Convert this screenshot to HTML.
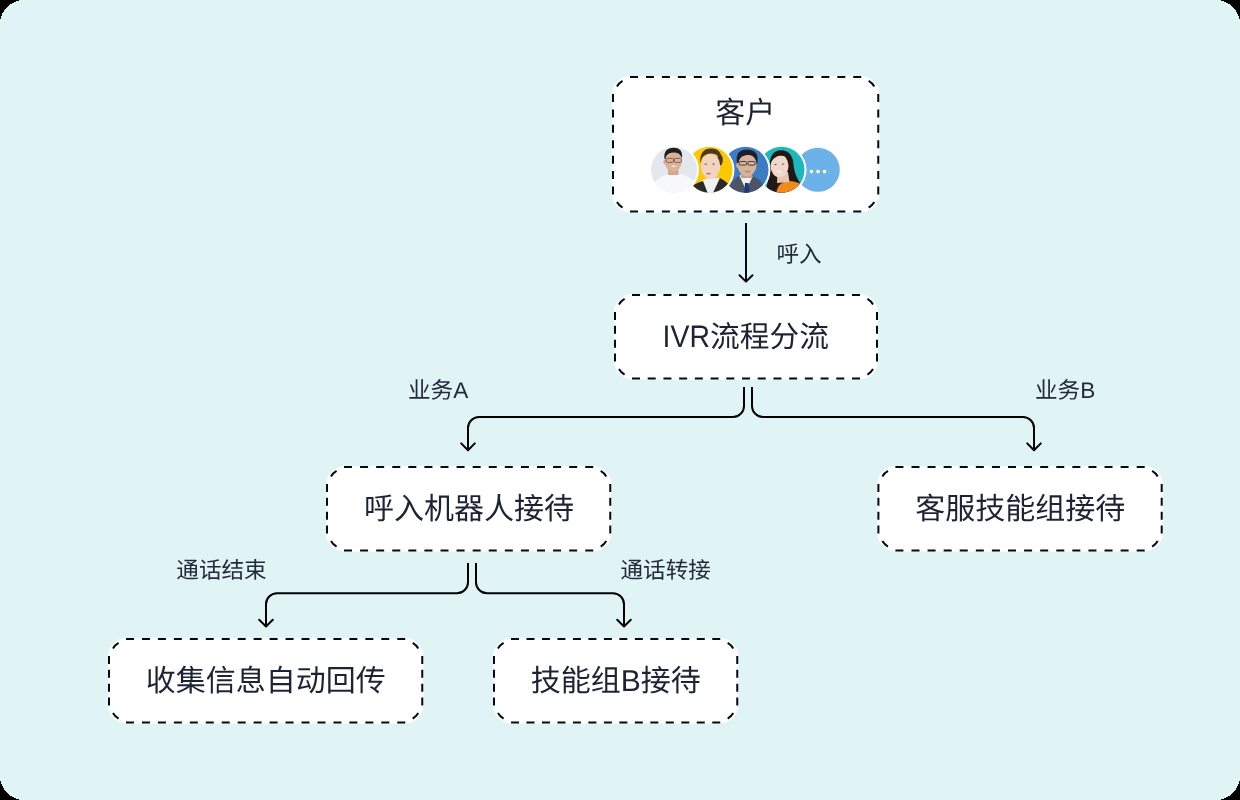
<!DOCTYPE html>
<html lang="zh-CN">
<head>
<meta charset="utf-8">
<style>
html,body{margin:0;padding:0;background:#000;}
body{width:1240px;height:800px;overflow:hidden;position:relative;font-family:"Liberation Sans",sans-serif;}
svg{position:absolute;left:0;top:0;will-change:transform;}
</style>
</head>
<body>
<svg width="1240" height="800" viewBox="0 0 1240 800">
  <rect x="0" y="0" width="1240" height="800" rx="24" fill="#e0f5f2" shape-rendering="crispEdges"/>
  <rect x="2" y="2" width="1236" height="796" rx="22" fill="#e0f4f6" shape-rendering="crispEdges"/>
  <g>
    <rect x="612" y="76" width="267.25" height="136.5" rx="18.5" fill="#fff"/>
    <rect x="614" y="294" width="264" height="85.5" rx="18.5" fill="#fff"/>
    <rect x="326" y="466" width="285.25" height="85.5" rx="18.5" fill="#fff"/>
    <rect x="877.4" y="466" width="285.3" height="85.5" rx="18.5" fill="#fff"/>
    <rect x="108" y="638" width="315.25" height="85.5" rx="18.5" fill="#fff"/>
    <rect x="493" y="638" width="245.25" height="85.5" rx="18.5" fill="#fff"/>
  </g>
  <g fill="none" stroke="#040817" stroke-width="2">
    <path d="M630.00 77.00L638.00 77.00M645.95 77.00L653.95 77.00M661.89 77.00L669.89 77.00M677.84 77.00L685.84 77.00M693.79 77.00L701.79 77.00M709.73 77.00L717.73 77.00M725.68 77.00L733.68 77.00M741.62 77.00L749.62 77.00M757.57 77.00L765.57 77.00M773.52 77.00L781.52 77.00M789.46 77.00L797.46 77.00M805.41 77.00L813.41 77.00M821.36 77.00L829.36 77.00M837.30 77.00L845.30 77.00M853.25 77.00L861.25 77.00M878.25 94.00L878.25 102.00M878.25 109.42L878.25 117.42M878.25 124.83L878.25 132.83M878.25 140.25L878.25 148.25M878.25 155.67L878.25 163.67M878.25 171.08L878.25 179.08M878.25 186.50L878.25 194.50M861.25 211.50L853.25 211.50M845.30 211.50L837.30 211.50M829.36 211.50L821.36 211.50M813.41 211.50L805.41 211.50M797.46 211.50L789.46 211.50M781.52 211.50L773.52 211.50M765.57 211.50L757.57 211.50M749.62 211.50L741.62 211.50M733.68 211.50L725.68 211.50M717.73 211.50L709.73 211.50M701.79 211.50L693.79 211.50M685.84 211.50L677.84 211.50M669.89 211.50L661.89 211.50M653.95 211.50L645.95 211.50M638.00 211.50L630.00 211.50M613.00 194.50L613.00 186.50M613.00 179.08L613.00 171.08M613.00 163.67L613.00 155.67M613.00 148.25L613.00 140.25M613.00 132.83L613.00 124.83M613.00 117.42L613.00 109.42M613.00 102.00L613.00 94.00M616.97 86.56A15 15 0 0 1 622.56 80.97M868.69 80.97A15 15 0 0 1 874.28 86.56M874.28 201.94A15 15 0 0 1 868.69 207.53M622.56 207.53A15 15 0 0 1 616.97 201.94"/>
    <path d="M632.00 295.00L640.00 295.00M647.71 295.00L655.71 295.00M663.43 295.00L671.43 295.00M679.14 295.00L687.14 295.00M694.86 295.00L702.86 295.00M710.57 295.00L718.57 295.00M726.29 295.00L734.29 295.00M742.00 295.00L750.00 295.00M757.71 295.00L765.71 295.00M773.43 295.00L781.43 295.00M789.14 295.00L797.14 295.00M804.86 295.00L812.86 295.00M820.57 295.00L828.57 295.00M836.29 295.00L844.29 295.00M852.00 295.00L860.00 295.00M877.00 312.00L877.00 320.00M877.00 325.83L877.00 333.83M877.00 339.67L877.00 347.67M877.00 353.50L877.00 361.50M860.00 378.50L852.00 378.50M844.29 378.50L836.29 378.50M828.57 378.50L820.57 378.50M812.86 378.50L804.86 378.50M797.14 378.50L789.14 378.50M781.43 378.50L773.43 378.50M765.71 378.50L757.71 378.50M750.00 378.50L742.00 378.50M734.29 378.50L726.29 378.50M718.57 378.50L710.57 378.50M702.86 378.50L694.86 378.50M687.14 378.50L679.14 378.50M671.43 378.50L663.43 378.50M655.71 378.50L647.71 378.50M640.00 378.50L632.00 378.50M615.00 361.50L615.00 353.50M615.00 347.67L615.00 339.67M615.00 333.83L615.00 325.83M615.00 320.00L615.00 312.00M618.97 304.56A15 15 0 0 1 624.56 298.97M867.44 298.97A15 15 0 0 1 873.03 304.56M873.03 368.94A15 15 0 0 1 867.44 374.53M624.56 374.53A15 15 0 0 1 618.97 368.94"/>
    <path d="M344.00 467.00L352.00 467.00M360.08 467.00L368.08 467.00M376.17 467.00L384.17 467.00M392.25 467.00L400.25 467.00M408.33 467.00L416.33 467.00M424.42 467.00L432.42 467.00M440.50 467.00L448.50 467.00M456.58 467.00L464.58 467.00M472.67 467.00L480.67 467.00M488.75 467.00L496.75 467.00M504.83 467.00L512.83 467.00M520.92 467.00L528.92 467.00M537.00 467.00L545.00 467.00M553.08 467.00L561.08 467.00M569.17 467.00L577.17 467.00M585.25 467.00L593.25 467.00M610.25 484.00L610.25 492.00M610.25 497.83L610.25 505.83M610.25 511.67L610.25 519.67M610.25 525.50L610.25 533.50M593.25 550.50L585.25 550.50M577.17 550.50L569.17 550.50M561.08 550.50L553.08 550.50M545.00 550.50L537.00 550.50M528.92 550.50L520.92 550.50M512.83 550.50L504.83 550.50M496.75 550.50L488.75 550.50M480.67 550.50L472.67 550.50M464.58 550.50L456.58 550.50M448.50 550.50L440.50 550.50M432.42 550.50L424.42 550.50M416.33 550.50L408.33 550.50M400.25 550.50L392.25 550.50M384.17 550.50L376.17 550.50M368.08 550.50L360.08 550.50M352.00 550.50L344.00 550.50M327.00 533.50L327.00 525.50M327.00 519.67L327.00 511.67M327.00 505.83L327.00 497.83M327.00 492.00L327.00 484.00M330.97 476.56A15 15 0 0 1 336.56 470.97M600.69 470.97A15 15 0 0 1 606.28 476.56M606.28 540.94A15 15 0 0 1 600.69 546.53M336.56 546.53A15 15 0 0 1 330.97 540.94"/>
    <path d="M895.40 467.00L903.40 467.00M911.49 467.00L919.49 467.00M927.57 467.00L935.57 467.00M943.66 467.00L951.66 467.00M959.75 467.00L967.75 467.00M975.83 467.00L983.83 467.00M991.92 467.00L999.92 467.00M1008.01 467.00L1016.01 467.00M1024.09 467.00L1032.09 467.00M1040.18 467.00L1048.18 467.00M1056.27 467.00L1064.27 467.00M1072.35 467.00L1080.35 467.00M1088.44 467.00L1096.44 467.00M1104.53 467.00L1112.53 467.00M1120.61 467.00L1128.61 467.00M1136.70 467.00L1144.70 467.00M1161.70 484.00L1161.70 492.00M1161.70 497.83L1161.70 505.83M1161.70 511.67L1161.70 519.67M1161.70 525.50L1161.70 533.50M1144.70 550.50L1136.70 550.50M1128.61 550.50L1120.61 550.50M1112.53 550.50L1104.53 550.50M1096.44 550.50L1088.44 550.50M1080.35 550.50L1072.35 550.50M1064.27 550.50L1056.27 550.50M1048.18 550.50L1040.18 550.50M1032.09 550.50L1024.09 550.50M1016.01 550.50L1008.01 550.50M999.92 550.50L991.92 550.50M983.83 550.50L975.83 550.50M967.75 550.50L959.75 550.50M951.66 550.50L943.66 550.50M935.57 550.50L927.57 550.50M919.49 550.50L911.49 550.50M903.40 550.50L895.40 550.50M878.40 533.50L878.40 525.50M878.40 519.67L878.40 511.67M878.40 505.83L878.40 497.83M878.40 492.00L878.40 484.00M882.37 476.56A15 15 0 0 1 887.96 470.97M1152.14 470.97A15 15 0 0 1 1157.73 476.56M1157.73 540.94A15 15 0 0 1 1152.14 546.53M887.96 546.53A15 15 0 0 1 882.37 540.94"/>
    <path d="M126.00 639.00L134.00 639.00M141.96 639.00L149.96 639.00M157.91 639.00L165.91 639.00M173.87 639.00L181.87 639.00M189.82 639.00L197.82 639.00M205.78 639.00L213.78 639.00M221.74 639.00L229.74 639.00M237.69 639.00L245.69 639.00M253.65 639.00L261.65 639.00M269.60 639.00L277.60 639.00M285.56 639.00L293.56 639.00M301.51 639.00L309.51 639.00M317.47 639.00L325.47 639.00M333.43 639.00L341.43 639.00M349.38 639.00L357.38 639.00M365.34 639.00L373.34 639.00M381.29 639.00L389.29 639.00M397.25 639.00L405.25 639.00M422.25 656.00L422.25 664.00M422.25 669.83L422.25 677.83M422.25 683.67L422.25 691.67M422.25 697.50L422.25 705.50M405.25 722.50L397.25 722.50M389.29 722.50L381.29 722.50M373.34 722.50L365.34 722.50M357.38 722.50L349.38 722.50M341.43 722.50L333.43 722.50M325.47 722.50L317.47 722.50M309.51 722.50L301.51 722.50M293.56 722.50L285.56 722.50M277.60 722.50L269.60 722.50M261.65 722.50L253.65 722.50M245.69 722.50L237.69 722.50M229.74 722.50L221.74 722.50M213.78 722.50L205.78 722.50M197.82 722.50L189.82 722.50M181.87 722.50L173.87 722.50M165.91 722.50L157.91 722.50M149.96 722.50L141.96 722.50M134.00 722.50L126.00 722.50M109.00 705.50L109.00 697.50M109.00 691.67L109.00 683.67M109.00 677.83L109.00 669.83M109.00 664.00L109.00 656.00M112.97 648.56A15 15 0 0 1 118.56 642.97M412.69 642.97A15 15 0 0 1 418.28 648.56M418.28 712.94A15 15 0 0 1 412.69 718.53M118.56 718.53A15 15 0 0 1 112.97 712.94"/>
    <path d="M511.00 639.00L519.00 639.00M526.48 639.00L534.48 639.00M541.96 639.00L549.96 639.00M557.44 639.00L565.44 639.00M572.92 639.00L580.92 639.00M588.40 639.00L596.40 639.00M603.88 639.00L611.88 639.00M619.37 639.00L627.37 639.00M634.85 639.00L642.85 639.00M650.33 639.00L658.33 639.00M665.81 639.00L673.81 639.00M681.29 639.00L689.29 639.00M696.77 639.00L704.77 639.00M712.25 639.00L720.25 639.00M737.25 656.00L737.25 664.00M737.25 669.83L737.25 677.83M737.25 683.67L737.25 691.67M737.25 697.50L737.25 705.50M720.25 722.50L712.25 722.50M704.77 722.50L696.77 722.50M689.29 722.50L681.29 722.50M673.81 722.50L665.81 722.50M658.33 722.50L650.33 722.50M642.85 722.50L634.85 722.50M627.37 722.50L619.37 722.50M611.88 722.50L603.88 722.50M596.40 722.50L588.40 722.50M580.92 722.50L572.92 722.50M565.44 722.50L557.44 722.50M549.96 722.50L541.96 722.50M534.48 722.50L526.48 722.50M519.00 722.50L511.00 722.50M494.00 705.50L494.00 697.50M494.00 691.67L494.00 683.67M494.00 677.83L494.00 669.83M494.00 664.00L494.00 656.00M497.97 648.56A15 15 0 0 1 503.56 642.97M727.69 642.97A15 15 0 0 1 733.28 648.56M733.28 712.94A15 15 0 0 1 727.69 718.53M503.56 718.53A15 15 0 0 1 497.97 712.94"/>
  </g>

  <g fill="none" stroke="#040817" stroke-width="2" stroke-linecap="butt" stroke-linejoin="round">
    <path d="M746 223 V281.5"/>
    <path d="M739.5 275.2 L746 281.6 L752.5 275.2" stroke-linecap="round"/>
  </g>
  <g fill="none" stroke="#000000" stroke-width="2" stroke-linecap="butt" stroke-linejoin="round">
    <path d="M744 387 V406 A11 11 0 0 1 733 417 H479 A11 11 0 0 0 468 428 V450"/>
    <path d="M461.2 443.4 L468 450.2 L474.8 443.4" stroke-linecap="round"/>
    <path d="M752 387 V406 A11 11 0 0 0 763 417 H1023 A11 11 0 0 1 1034 428 V450"/>
    <path d="M1027.2 443.4 L1034 450.2 L1040.8 443.4" stroke-linecap="round"/>
    <path d="M468 563 V582.3 A11 11 0 0 1 457 593.3 H277 A11 11 0 0 0 266 604.3 V626.5"/>
    <path d="M259.2 619.7 L266 626.5 L272.8 619.7" stroke-linecap="round"/>
    <path d="M476 563 V582.3 A11 11 0 0 0 487 593.3 H613 A11 11 0 0 1 624 604.3 V626.5"/>
    <path d="M617.2 619.7 L624 626.5 L630.8 619.7" stroke-linecap="round"/>
  </g>
  <g fill="#1c2334" font-family="Liberation Sans, sans-serif" font-size="30" text-anchor="middle" text-rendering="geometricPrecision">
    <text x="745.3" y="123.4">客户</text>
    <text transform="translate(662.6 346.8) scale(0.948 1.04)" text-anchor="start">IVR</text>
    <text x="710.1" y="346.6" text-anchor="start" font-size="29.7">流程分流</text>
    <text x="468.9" y="519.4">呼入机器人接待</text>
    <text x="1020.3" y="519.4">客服技能组接待</text>
    <text x="265.8" y="691.4">收集信息自动回传</text>
    <text x="615.7" y="691.4">技能组B接待</text>
  </g>
  <g fill="#232a3a" font-family="Liberation Sans, sans-serif" font-size="22.6" text-rendering="geometricPrecision">
    <text x="776.5" y="261.8">呼入</text>
    <text x="408" y="398.3">业务A</text>
    <text x="1035" y="398.3">业务B</text>
    <text x="176.3" y="578.2">通话结束</text>
    <text x="620.5" y="578.2">通话转接</text>
  </g>
  <defs>
    <clipPath id="c1"><circle cx="674" cy="169.85" r="23"/></clipPath>
    <clipPath id="c2"><circle cx="709.5" cy="169.85" r="23"/></clipPath>
    <clipPath id="c3"><circle cx="745.5" cy="169.85" r="23"/></clipPath>
    <clipPath id="c4"><circle cx="781.5" cy="169.85" r="23"/></clipPath>
  </defs>
  <circle cx="817.8" cy="169.85" r="22" fill="#6cb2e8"/>
  <g fill="#ffffff"><circle cx="811.5" cy="171.6" r="1.8"/><circle cx="818" cy="171.6" r="1.8"/><circle cx="824.5" cy="171.6" r="1.8"/></g>
  <circle cx="781.5" cy="169.85" r="25" fill="#ffffff"/>
  <g clip-path="url(#c4)">
    <rect x="758" y="146" width="47" height="48" fill="#1cb8bb"/>
    <path d="M766 195 C766 186 769 178 770 170 C769 158 772 150.5 781 150.3 C789 150.5 793 156 793.5 164 C794 172 797 178 800 183 L803 195 Z" fill="#241815"/>
    <path d="M776 195 C777 186 781 182 788 181 C794 181 799 183 803 185 L806 195 Z" fill="#ef8a1b"/>
    <path d="M777.5 172 L788 172 L789.5 182 L777 183 Z" fill="#e9c4b1"/>
    <ellipse cx="779.5" cy="165.8" rx="9" ry="11.5" fill="#f1d7ca"/>
    <path d="M770.5 164 C770 155 775 151.5 781 151.5 C787 151.5 790.5 155 790.5 161 C788 157 784 155 778 156 C774 157.5 771.5 160.5 770.5 164 Z" fill="#241815"/>
    <ellipse cx="775.5" cy="164.5" rx="1.3" ry="0.6" fill="#5a463e"/>
    <ellipse cx="783" cy="164" rx="1.3" ry="0.6" fill="#5a463e"/>
    <ellipse cx="779" cy="171.5" rx="2.6" ry="0.9" fill="#f7efe9"/>
  </g>
  <circle cx="745.5" cy="169.85" r="25" fill="#ffffff"/>
  <g clip-path="url(#c3)">
    <rect x="722" y="146" width="47" height="48" fill="#3b7cc3"/>
    <path d="M728 195 C729 184 734 178.5 740 175.5 L746 177 L753 176.5 C759 178 763 183 765 190 L765 195 Z" fill="#4d5465"/>
    <path d="M739.5 176 L746 190 L752.5 177 L752 175 L740 175 Z" fill="#eef1f4"/>
    <path d="M745 183 L748.5 183 L750 195 L744 195 Z" fill="#1d3b7a"/>
    <path d="M741 169 L752 169 L752 178 L741 178 Z" fill="#c9a086"/>
    <ellipse cx="747" cy="164.5" rx="9.6" ry="11.8" fill="#d8b39b"/>
    <ellipse cx="737.6" cy="165.5" rx="1.5" ry="2.6" fill="#cfa68c"/>
    <path d="M737 163 C735.5 153 740 149.5 747 149.5 C754 149.5 758.5 153 757.5 161 L757 165 C756 159 754 155.5 749 155 C743 155 739.5 157 738.5 163 Z" fill="#1b202c"/>
    <g fill="none" stroke="#3a3636" stroke-width="0.9"><rect x="739.5" y="161.5" width="7" height="3.6" rx="0.8"/><rect x="748" y="161.5" width="7" height="3.6" rx="0.8"/></g>
    <ellipse cx="747.5" cy="171.5" rx="3" ry="0.9" fill="#b98a76"/>
  </g>
  <circle cx="709.5" cy="169.85" r="25" fill="#ffffff"/>
  <g clip-path="url(#c2)">
    <rect x="686" y="146" width="47" height="48" fill="#fcc800"/>
    <ellipse cx="720" cy="160" rx="2.8" ry="5.5" fill="#4a362b"/>
    <path d="M705.5 175 L717.8 175 L717.8 183 L705.5 183 Z" fill="#eac3a8"/>
    <ellipse cx="710.5" cy="166.3" rx="9.8" ry="12.3" fill="#f1d3bf"/>
    <path d="M700.3 163 C699.5 153 704 148.5 711 148.5 C718 148.5 722.5 153 721.8 161 L721.3 165 C720.5 160 719 156 715.5 154.3 C711 152.8 705 153.5 702 158 Z" fill="#4a362b"/>
    <path d="M699 195 L702 180 L709 178.5 L719 178 L722 195 Z" fill="#eef0f2"/>
    <path d="M688 189 C692 185 697 183 703 181 L708.5 195 L688 195 Z" fill="#2a2a2c"/>
    <path d="M720 178 C724 180 728 183.5 732 187 L732 195 L712 195 Z" fill="#2a2a2c"/>
    <ellipse cx="705.8" cy="164" rx="1.4" ry="0.6" fill="#5a4036"/>
    <ellipse cx="713.5" cy="164" rx="1.4" ry="0.6" fill="#5a4036"/>
    <ellipse cx="708.5" cy="173.6" rx="2.4" ry="0.9" fill="#d46a60"/>
  </g>
  <circle cx="674" cy="169.85" r="25" fill="#ffffff"/>
  <g clip-path="url(#c1)">
    <rect x="650" y="146" width="47" height="48" fill="#e4e8ee"/>
    <path d="M651 195 L652 186 C656 179.5 661 176 667 174.5 L680 174 C687 175.5 692 178.5 696 183.5 L697 195 Z" fill="#f7f8fa"/>
    <path d="M668 167.5 L678.5 167.5 L678.5 175 L668 175 Z" fill="#d6a88b"/>
    <ellipse cx="673.2" cy="161.5" rx="8.7" ry="10" fill="#dfb194"/>
    <ellipse cx="664.8" cy="162" rx="1.3" ry="2.3" fill="#d4a587"/>
    <path d="M664.5 159 C663.5 151 667.5 147.8 673.5 147.8 C679.5 147.8 683 151 682 158 L681.3 157 C680 153.5 677 152.3 673 152.5 C669 152.7 666 154.5 665.5 159 Z" fill="#1d1e22"/>
    <g fill="none" stroke="#55555a" stroke-width="0.8"><rect x="666.4" y="158.4" width="7" height="4" rx="1"/><rect x="674.4" y="158.4" width="7" height="4" rx="1"/></g>
    <ellipse cx="673.8" cy="166.3" rx="2.5" ry="0.8" fill="#f5efe8"/>
  </g>

</svg>
</body>
</html>
